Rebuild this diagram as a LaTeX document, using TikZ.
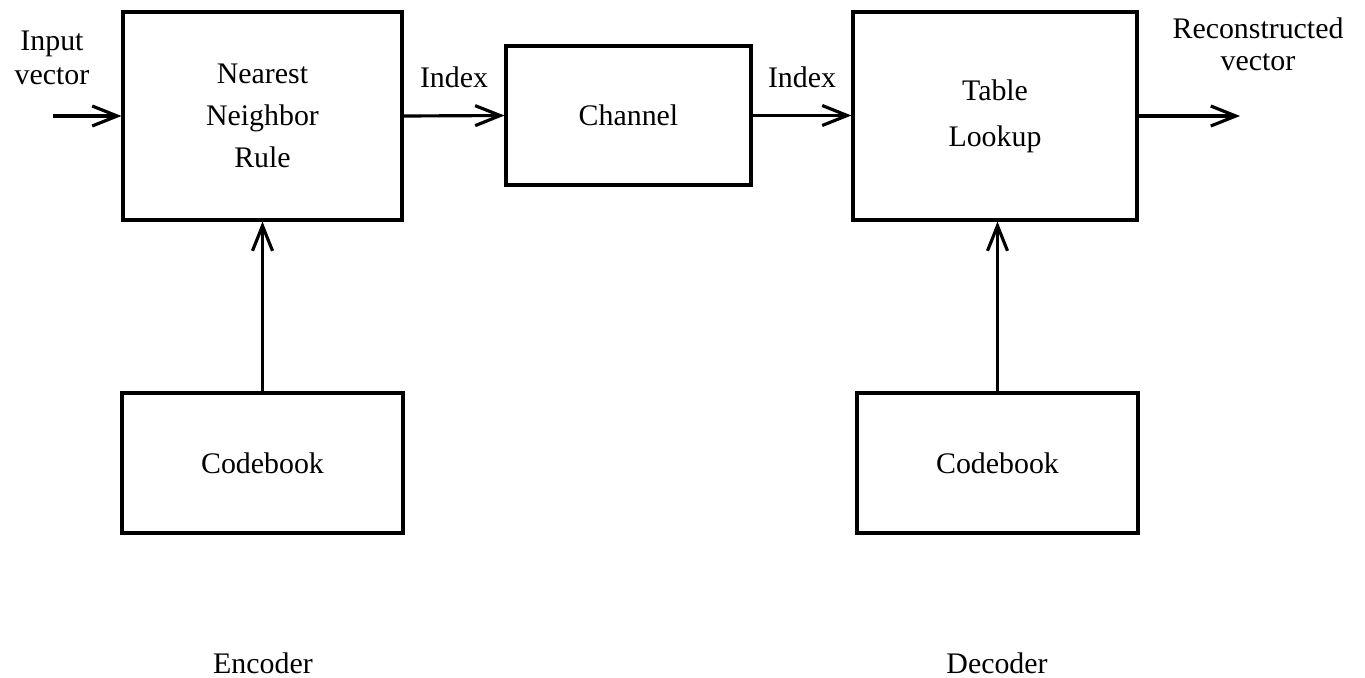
\documentclass[tikz,border=0pt]{standalone}
\usepackage{fontspec}
\setmainfont{Liberation Serif}
\usetikzlibrary{positioning,arrows.meta}

\begin{document}
\begin{tikzpicture}[x=0.02cm, y=-0.02cm,
  block/.style={draw, line width=1.8pt, align=center, font=\fontsize{17}{24}\selectfont},
  lbl/.style={align=center, font=\fontsize{17}{19}\selectfont},
  arr/.style={line width=1.8pt, -{Straight Barb[length=5mm,width=4mm,line width=1.8pt]}}]
  \useasboundingbox (0,0) rectangle (1365,677);

  % Encoder side
  \node[block, minimum width=5.58cm, minimum height=4.16cm] (nnrule) at (262.5,116) {Nearest\\Neighbor\\Rule};
  \node[block, minimum width=5.62cm, minimum height=2.8cm] (cbenc) at (262.5,463) {Codebook};
  \node[lbl] (enclbl) at (263,663) {Encoder};

  % Channel
  \node[block, minimum width=4.9cm, minimum height=2.78cm] (channel) at (628.5,115.5) {Channel};

  % Decoder side
  \node[block, minimum width=5.68cm, minimum height=4.16cm] (lookup) at (995,116) {Table\\[2pt]Lookup};
  \node[block, minimum width=5.62cm, minimum height=2.8cm] (cbdec) at (997.5,463) {Codebook};
  \node[lbl] (declbl) at (997,663) {Decoder};

  % Input and output
  \coordinate (vin) at (53,116);
  \coordinate (vout) at (1240,116);
  \node[lbl] (inlbl) at (52,58) {Input\\vector};
  \node[lbl, font=\fontsize{17}{18}\selectfont] (outlbl) at (1258,44) {Reconstructed\\vector};
  \node[lbl] (idxa) at (454,77) {Index};
  \node[lbl] (idxb) at (802,77) {Index};

  % Connections
  \draw[arr] (vin) -- (nnrule.west);
  \draw[arr] (nnrule.east) -- (channel.west);
  \draw[arr] (channel.east) -- (channel.east -| lookup.west);
  \draw[arr] (lookup.east) -- (vout);
  \draw[arr] (cbenc.north) -- (nnrule.south);
  \draw[arr] (cbdec.north) -- (cbdec.north |- lookup.south);
\end{tikzpicture}
\end{document}
